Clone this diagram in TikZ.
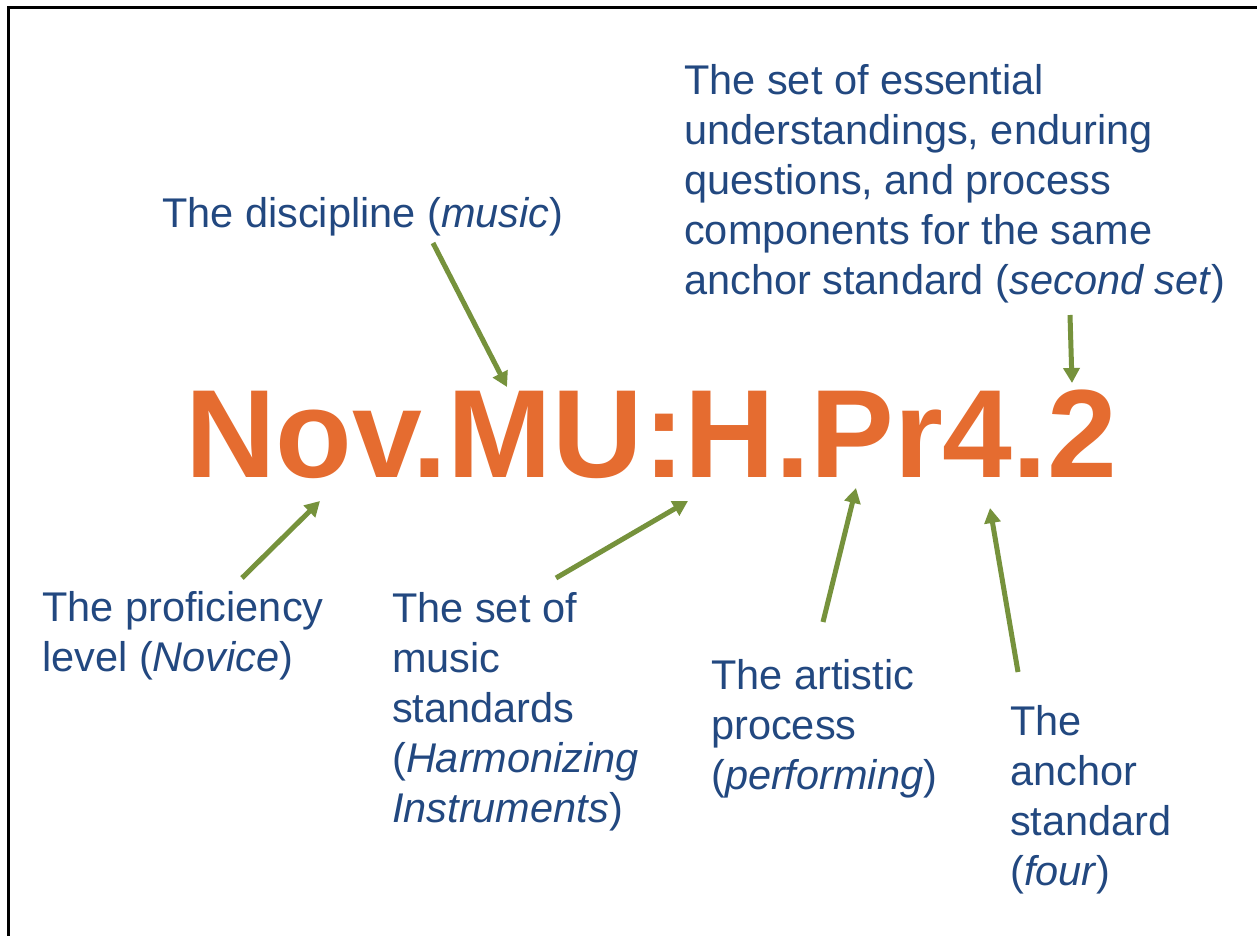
\documentclass[tikz,border=0pt]{standalone}
\usepackage{fontspec}
\setmainfont{Liberation Sans}
\usetikzlibrary{arrows.meta}
\definecolor{txtblue}{RGB}{34,72,128}
\definecolor{codeorange}{RGB}{229,108,48}
\definecolor{arrowgreen}{RGB}{118,146,60}
\tikzset{
  lbl/.style={anchor=base west, align=left, inner sep=0pt, text=txtblue,
    font=\fontsize{41.5}{50}\selectfont},
  ptr/.style={draw=arrowgreen, line width=5pt,
    -{Triangle[length=15pt,width=16pt]}}
}
\begin{document}
\begin{tikzpicture}[x=1pt,y=-1pt]
\useasboundingbox (0,0) rectangle (1257,936);
\fill[white] (0,0) rectangle (1257,936);
\draw[line width=2.5pt] (8.5,936) -- (8.5,7.5) -- (1257,7.5);

\node[anchor=base west, inner sep=0pt, text=codeorange,
  font=\fontsize{125.5}{130}\selectfont\bfseries] (code) at (185,477) {Nov.MU:H.Pr4.2};

\node[lbl] (disc) at (162,227) {The discipline (\textit{music})};
\node[lbl] (set2) at (684,294) {The set of essential\\understandings, enduring\\questions, and process\\components for the same\\anchor standard (\textit{second set})};
\node[lbl] (prof) at (42,671) {The proficiency\\level (\textit{Novice})};
\node[lbl] (musset) at (392,822) {The set of\\music\\standards\\(\textit{Harmonizing}\\\textit{Instruments})};
\node[lbl] (art) at (711,789) {The artistic\\process\\(\textit{performing})};
\node[lbl] (anch) at (1010,885) {The\\anchor\\standard\\(\textit{four})};

\coordinate (discT) at (433,243);
\coordinate (discH) at (507,387);
\coordinate (set2T) at (1070,315);
\coordinate (set2H) at (1072,383);
\coordinate (profT) at (242,578);
\coordinate (profH) at (320,501);
\coordinate (musT) at (556,578);
\coordinate (musH) at (688,501);
\coordinate (artT) at (823,622);
\coordinate (artH) at (856,488);
\coordinate (anchT) at (1018,672);
\coordinate (anchH) at (990,508);

\draw[ptr] (discT) -- (discH);
\draw[ptr] (set2T) -- (set2H);
\draw[ptr] (profT) -- (profH);
\draw[ptr] (musT) -- (musH);
\draw[ptr] (artT) -- (artH);
\draw[ptr] (anchT) -- (anchH);
\end{tikzpicture}
\end{document}
